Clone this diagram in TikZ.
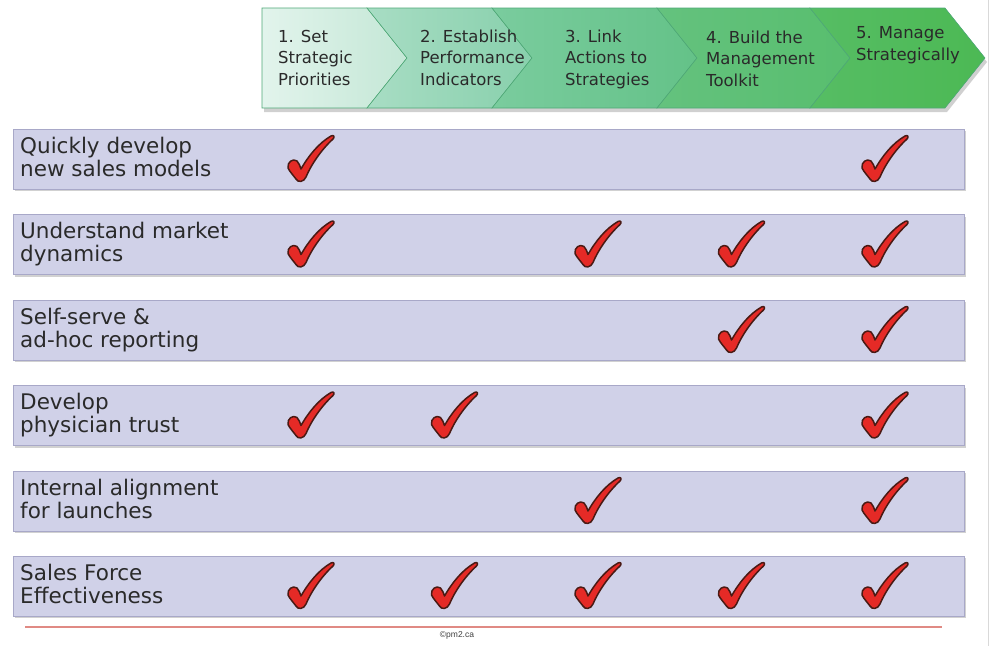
\documentclass[tikz,border=0pt]{standalone}
\usepackage{fontspec}
\setmainfont{DejaVu Sans}
\newfontfamily\smallsans{Liberation Sans}
\begin{document}
\begin{tikzpicture}[x=1pt,y=-1pt,
  rowbox/.style={fill=rowfill,draw=rowedge,line width=0.9pt},
  rowshadow/.style={fill=black!18},
  rowlabel/.style={anchor=base west,inner sep=0pt,align=left,text=txt,
    font=\fontsize{21.5}{23}\selectfont},
  headlabel/.style={anchor=base west,inner sep=0pt,align=left,text=txt,
    font=\fontsize{16.5}{21.5}\selectfont},
  chev/.style={draw=chevedge,line width=0.6pt},
  checkmark/.pic={
    \path[fill=tickred,draw=tickedge,line width=1.5pt,line join=round]
      (1,33) .. controls (0,27) and (6,23) .. (10,26)
      .. controls (12,28) and (13,31) .. (14,34)
      .. controls (22,20) and (32,8) .. (44,1)
      .. controls (47,-0.5) and (48,2) .. (46,4)
      .. controls (34,15) and (24,30) .. (19,42)
      .. controls (17,47) and (11,48) .. (9,44)
      .. controls (6,40) and (3,37) .. (1,33) -- cycle;
  }]
\definecolor{rowfill}{HTML}{D0D1E8}
\definecolor{rowedge}{HTML}{A8A8C8}
\definecolor{txt}{HTML}{2A2A2A}
\definecolor{tickred}{HTML}{E52A26}
\definecolor{tickedge}{HTML}{4A1A14}
\definecolor{chevedge}{HTML}{4FA877}
\definecolor{lineRed}{HTML}{E08A84}

\useasboundingbox (0,0) rectangle (991,646);
\fill[white] (0,0) rectangle (991,646);
\draw[black!15,line width=0.8pt] (988.5,0) -- (988.5,646);

% ---- process chevrons ----
\fill[black!30,opacity=0.6] (264,12) -- (947,12) -- (987,62) -- (947,112) -- (264,112) -- cycle;
\def\ct{8}\def\cm{58}\def\cb{108}
\path[chev,left color={rgb,255:red,226;green,244;blue,236},right color={rgb,255:red,196;green,231;blue,214}]
  (262,\ct) -- (367,\ct) -- (407,\cm) -- (367,\cb) -- (262,\cb) -- cycle;
\path[chev,left color={rgb,255:red,168;green,221;blue,196},right color={rgb,255:red,136;green,208;blue,172}]
  (367,\ct) -- (492,\ct) -- (532,\cm) -- (492,\cb) -- (367,\cb) -- (407,\cm) -- cycle;
\path[chev,left color={rgb,255:red,122;green,204;blue,158},right color={rgb,255:red,100;green,194;blue,136}]
  (492,\ct) -- (657,\ct) -- (697,\cm) -- (657,\cb) -- (492,\cb) -- (532,\cm) -- cycle;
\path[chev,left color={rgb,255:red,100;green,194;blue,126},right color={rgb,255:red,88;green,190;blue,110}]
  (657,\ct) -- (810,\ct) -- (850,\cm) -- (810,\cb) -- (657,\cb) -- (697,\cm) -- cycle;
\path[chev,left color={rgb,255:red,86;green,189;blue,100},right color={rgb,255:red,76;green,185;blue,84}]
  (810,\ct) -- (945,\ct) -- (985,\cm) -- (945,\cb) -- (810,\cb) -- (850,\cm) -- cycle;

% the base anchor of these labels sits on their last line
\node[headlabel] (h1) at (278,85) {1. Set\\Strategic\\Priorities};
\node[headlabel] (h2) at (420,85) {2. Establish\\Performance\\Indicators};
\node[headlabel] (h3) at (565,85) {3. Link\\Actions to\\Strategies};
\node[headlabel] (h4) at (706,86) {4. Build the\\Management\\Toolkit};
\node[headlabel] (h5) at (856,60) {5. Manage\\Strategically};

% ---- requirement rows ----
\foreach \i/\top/\lab in {
  1/129/{Quickly develop\\new sales models},
  2/214.5/{Understand market\\dynamics},
  3/300/{Self-serve \&\\ad-hoc reporting},
  4/385.5/{Develop\\physician trust},
  5/471/{Internal alignment\\for launches},
  6/556/{Sales Force\\Effectiveness}}{
  \fill[rowshadow] (14.5,\top+2) rectangle (965.5,\top+62);
  \path[rowbox] (13,\top) rectangle (964,\top+60);
  \node[rowlabel] (r\i) at (20,\top+47) {\lab};
}

% ---- check marks (row/column) ----
\foreach \top/\cols in {129/{1,5}, 214.5/{1,3,4,5}, 300/{4,5},
                        385.5/{1,2,5}, 471/{3,5}, 556/{1,2,3,4,5}}{
  \foreach \c in \cols {
    \pic at ({287+143.5*(\c-1)},\top+6) {checkmark};
  }
}

% ---- footer ----
\draw[lineRed,line width=1.2pt] (25,627) -- (942,627);
\node[text=black!75,font=\smallsans\fontsize{8.5}{10}\selectfont,inner sep=0pt] (copy) at (457,635) {©pm2.ca};
\end{tikzpicture}
\end{document}
